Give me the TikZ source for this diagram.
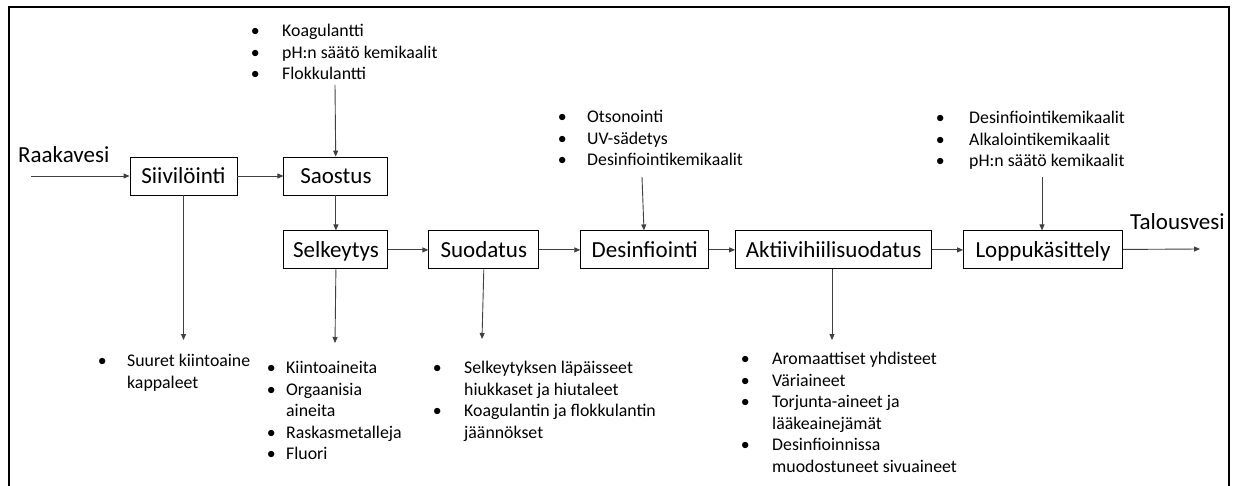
\documentclass[tikz,border=0pt]{standalone}
\usepackage{fontspec}
\setmainfont{Carlito}
\usetikzlibrary{arrows.meta,positioning}
\tikzset{
  vaihe/.style={rectangle, draw=black, line width=0.9pt, minimum height=38pt, inner sep=0pt, text height=19.6pt, text depth=5pt, font=\fontsize{23}{28}\selectfont},
  luettelo/.style={anchor=north west, inner sep=0pt, font=\fontsize{17.8}{21.5}\selectfont},
  otsikko/.style={anchor=west, inner sep=0pt, font=\fontsize{23}{28}\selectfont},
  nuoli/.style={-{Triangle[length=6pt,width=5pt]}, line width=0.9pt, draw=black!75}
}
\newcommand{\kohta}{\makebox[9pt]{\textbullet}}

\begin{document}
\begin{tikzpicture}[x=1pt, y=-1pt]
\useasboundingbox (0,0) rectangle (1238,486);
\draw[line width=2pt] (9,490) |- (1229,7) -- (1229,490);

% prosessin vaiheet
\node[vaihe, minimum width=107pt] (sii) at (183.5,176) {Siivilöinti};
\node[vaihe, minimum width=104pt, right=46pt of sii] (sao) {Saostus};
\node[vaihe, minimum width=104pt, below=35pt of sao] (sel) {Selkeytys};
\node[vaihe, minimum width=110pt, right=40pt of sel] (suo) {Suodatus};
\node[vaihe, minimum width=128pt, right=41pt of suo] (des) {Desinfiointi};
\node[vaihe, minimum width=196pt, right=26pt of des] (akt) {Aktiivihiilisuodatus};
\node[vaihe, minimum width=159pt, right=31pt of akt] (lop) {Loppukäsittely};

\node[otsikko] (raaka) at (18,155) {Raakavesi};
\node[otsikko] (talous) at (1130,222) {Talousvesi};

% lisattavat aineet
\node[luettelo] (lisa1) at (250.5,21.5) {\begin{tabular}{@{}l@{\hspace{22.5pt}}l@{}}
\kohta & Koagulantti\\
\kohta & pH:n säätö kemikaalit\\
\kohta & Flokkulantti
\end{tabular}};
\node[luettelo] (lisa2) at (557.5,107.5) {\begin{tabular}{@{}l@{\hspace{20.5pt}}l@{}}
\kohta & Otsonointi\\
\kohta & UV-sädetys\\
\kohta & Desinfiointikemikaalit
\end{tabular}};
\node[luettelo] (lisa3) at (935.5,108.5) {\begin{tabular}{@{}l@{\hspace{24.5pt}}l@{}}
\kohta & Desinfiointikemikaalit\\
\kohta & Alkalointikemikaalit\\
\kohta & pH:n säätö kemikaalit
\end{tabular}};

% poistuvat aineet
\node[luettelo] (jate1) at (97.5,351.5) {\begin{tabular}{@{}l@{\hspace{20.5pt}}l@{}}
\kohta & Suuret kiintoaine\\
 & kappaleet
\end{tabular}};
\node[luettelo] (jate2) at (266.5,358.5) {\begin{tabular}{@{}l@{\hspace{10.5pt}}l@{}}
\kohta & Kiintoaineita\\
\kohta & Orgaanisia\\
 & aineita\\
\kohta & Raskasmetalleja\\
\kohta & Fluori
\end{tabular}};
\node[luettelo] (jate3) at (432.5,358.5) {\begin{tabular}{@{}l@{\hspace{22.5pt}}l@{}}
\kohta & Selkeytyksen läpäisseet\\
 & hiukkaset ja hiutaleet\\
\kohta & Koagulantin ja flokkulantin\\
 & jäännökset
\end{tabular}};
\node[luettelo] (jate4) at (740.5,349.5) {\begin{tabular}{@{}l@{\hspace{22.5pt}}l@{}}
\kohta & Aromaattiset yhdisteet\\
\kohta & Väriaineet\\
\kohta & Torjunta-aineet ja\\
 & lääkeainejämät\\
\kohta & Desinfioinnissa\\
 & muodostuneet sivuaineet
\end{tabular}};

% nuolten vapaat paat
\coordinate (sisaan) at (31,176);
\coordinate (ulos) at (1200,249);
\coordinate (lisa1p) at (335,85);
\coordinate (lisa2p) at (642,177);
\coordinate (lisa3p) at (1042,177);
\coordinate (jate1p) at (183.5,340);
\coordinate (jate2p) at (335,343);
\coordinate (jate3p) at (482,339);
\coordinate (jate4p) at (832,340);

\draw[nuoli] (sisaan) -- (sii);
\draw[nuoli] (sii) -- (sao);
\draw[nuoli] (sao) -- (sel);
\draw[nuoli] (sel) -- (suo);
\draw[nuoli] (suo) -- (des);
\draw[nuoli] (des) -- (akt);
\draw[nuoli] (akt) -- (lop);
\draw[nuoli] (lop) -- (ulos);

\draw[nuoli] (lisa1p) -- (sao);
\draw[nuoli] (lisa2p) -- (des);
\draw[nuoli] (lisa3p) -- (lisa3p |- lop.north);

\draw[nuoli] (sii.south) -- (jate1p);
\draw[nuoli] (sel.south) -- (jate2p);
\draw[nuoli] (suo.south) -- (jate3p);
\draw[nuoli] (akt.south -| jate4p) -- (jate4p);
\end{tikzpicture}
\end{document}
